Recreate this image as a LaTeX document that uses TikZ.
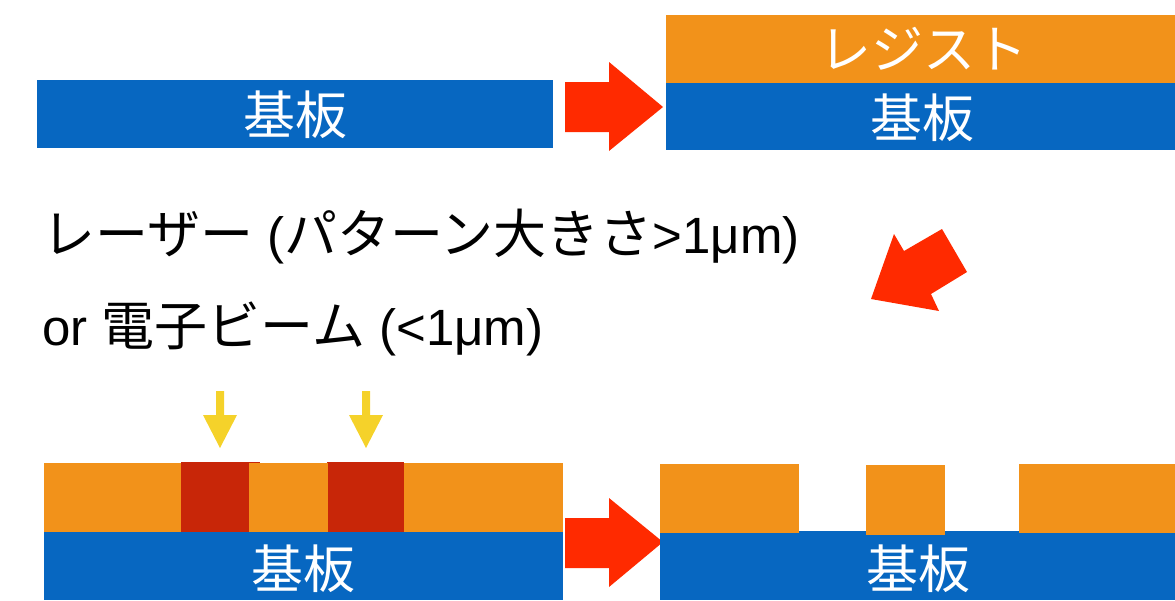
\documentclass[tikz,border=0pt]{standalone}
\usepackage{fontspec}
\setmainfont{Liberation Sans}
\newfontfamily\cjk{Noto Sans CJK JP}
\definecolor{sub}{RGB}{7,103,193}
\definecolor{res}{RGB}{242,146,26}
\definecolor{exp}{RGB}{200,38,8}
\definecolor{arr}{RGB}{255,42,0}
\definecolor{ylw}{RGB}{245,210,42}
\newcommand{\jp}[1]{{\cjk\fontsize{53}{53}\selectfont #1}}
\begin{document}
\begin{tikzpicture}[x=1pt,y=-1pt,
  lbl/.style={text=white,inner sep=0pt,anchor=base,font=\cjk\fontsize{52}{52}\selectfont},
  txt/.style={text=black,inner sep=0pt,anchor=base west,font=\fontsize{51}{51}\selectfont},
  bigarrow/.style={fill=arr},
  beam/.style={fill=ylw}]
\useasboundingbox (0,0) rectangle (1175,600);
% top-left substrate
\fill[sub] (37,80) rectangle (553,148);
\node[lbl] (s1) at (295,134) {基板};
% arrow 1
\fill[bigarrow] (565,82) -- (609,82) -- (609,62) -- (663,107) -- (609,151) -- (609,132) -- (565,132) -- cycle;
% top-right
\fill[res] (666,15) rectangle (1175,83);
\fill[sub] (666,83) rectangle (1175,150);
\node[lbl] (r2) at (923,68) {レジスト};
\node[lbl] (s2) at (922,137) {基板};
% diagonal arrow
\fill[bigarrow] (871,299) -- (894,234) -- (904,251) -- (942,229) -- (967,272) -- (931,294) -- (939,311) -- cycle;
% texts
\node[txt] (t1) at (42,253) {\jp{レーザー} (\jp{パターン大きさ}>1μm)};
\node[txt] (t2) at (42,345) {or \jp{電子ビーム} (<1μm)};
% bottom-left
\fill[res] (44,463) rectangle (563,532);
\fill[exp] (181,462) rectangle (260,532);
\fill[exp] (327,462) rectangle (404,532);
\fill[res] (249,463) rectangle (328,533);
\fill[sub] (44,532) rectangle (563,600);
\node[lbl] (s3) at (303,588) {基板};
% yellow beams
\fill[beam] (216,391) -- (224,391) -- (224,415) -- (237,415) -- (220,448) -- (203,415) -- (216,415) -- cycle;
\fill[beam] (362,391) -- (370,391) -- (370,415) -- (383,415) -- (366,448) -- (349,415) -- (362,415) -- cycle;
% arrow 3
\fill[bigarrow] (565,518) -- (609,518) -- (609,498) -- (663,542) -- (609,587) -- (609,568) -- (565,568) -- cycle;
% bottom-right
\fill[sub] (660,531) rectangle (1175,600);
\fill[res] (660,464) rectangle (799,533);
\fill[res] (866,465) rectangle (945,535);
\fill[res] (1019,464) rectangle (1175,533);
\node[lbl] (s4) at (918,588) {基板};
\end{tikzpicture}
\end{document}
